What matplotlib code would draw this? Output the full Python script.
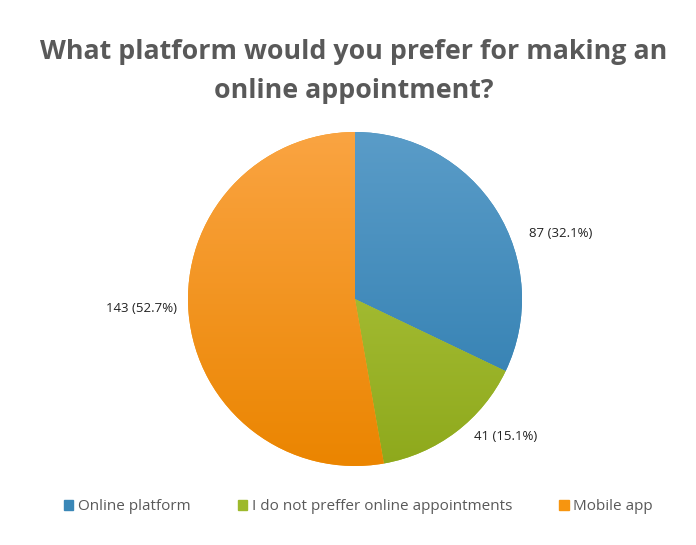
import matplotlib.pyplot as plt
import numpy as np
from matplotlib.colors import LinearSegmentedColormap

# datos del gráfico
categorias = ["Online platform", "I do not preffer online appointments", "Mobile app"]
valores = [87, 41, 143]
porcentajes = [32.1, 15.1, 52.7]
colores = ["#3A87B7", "#9DB92C", "#F7950F"]
# tonos claro/oscuro para el degradado tipo Excel
claros = ["#5A9CC8", "#B5CA45", "#FAA442"]
oscuros = ["#2C7BAE", "#8EA91C", "#EB8500"]

plt.rcParams['font.family'] = ['Open Sans', 'DejaVu Sans']

fig = plt.figure(figsize=(6.96, 5.45), dpi=100)
ax = fig.add_axes([188 / 696, 79 / 545, 334 / 696, 334 / 545])

etiquetas = [f"{v} ({p:.1f}%)" for v, p in zip(valores, porcentajes)]

wedges, textos = ax.pie(valores, colors=colores, startangle=90, counterclock=False,
                        labels=etiquetas, labeldistance=1.22,
                        wedgeprops=dict(linewidth=0),
                        textprops=dict(fontsize=9.5, color="#222222"))

# degradado vertical dentro de cada sector
grad = np.linspace(0, 1, 256).reshape(-1, 1)
for w, c1, c2 in zip(wedges, claros, oscuros):
    cmap = LinearSegmentedColormap.from_list("g", [c1, c2])
    im = ax.imshow(grad, cmap=cmap, extent=(-1, 1, -1, 1), origin="upper",
                   aspect="auto", zorder=w.get_zorder() + 0.1)
    im.set_clip_path(w)

# desplazar las etiquetas como en Excel
desplaz = [-14.6, 10.3, -2.5]
distancias = [1.29, 1.22, 1.28]
for w, t, d, r in zip(wedges, textos, desplaz, distancias):
    ang = np.deg2rad((w.theta1 + w.theta2) / 2 + d)
    t.set_position((r * np.cos(ang), r * np.sin(ang)))
    t.set_ha("center")
    t.set_va("center")
ax.set_xlim(-1, 1)
ax.set_ylim(-1, 1)
ax.set_aspect("equal")
ax.axis("off")

fig.text(0.508, 0.905, "What platform would you prefer for making an", ha="center", va="center",
         fontsize=19.3, fontweight="bold", color="#595959")
fig.text(0.508, 0.833, "online appointment?", ha="center", va="center",
         fontsize=19.3, fontweight="bold", color="#595959")

handles = [plt.Rectangle((0, 0), 1, 1, color=c) for c in colores]
fig.legend(handles, categorias, loc="center", bbox_to_anchor=(0.515, 0.07), ncol=3,
           frameon=False, fontsize=11, handlelength=0.6, handleheight=0.6,
           handletextpad=0.3, columnspacing=3.1, labelcolor="#595959")

fig.savefig("out.png", dpi=100)
